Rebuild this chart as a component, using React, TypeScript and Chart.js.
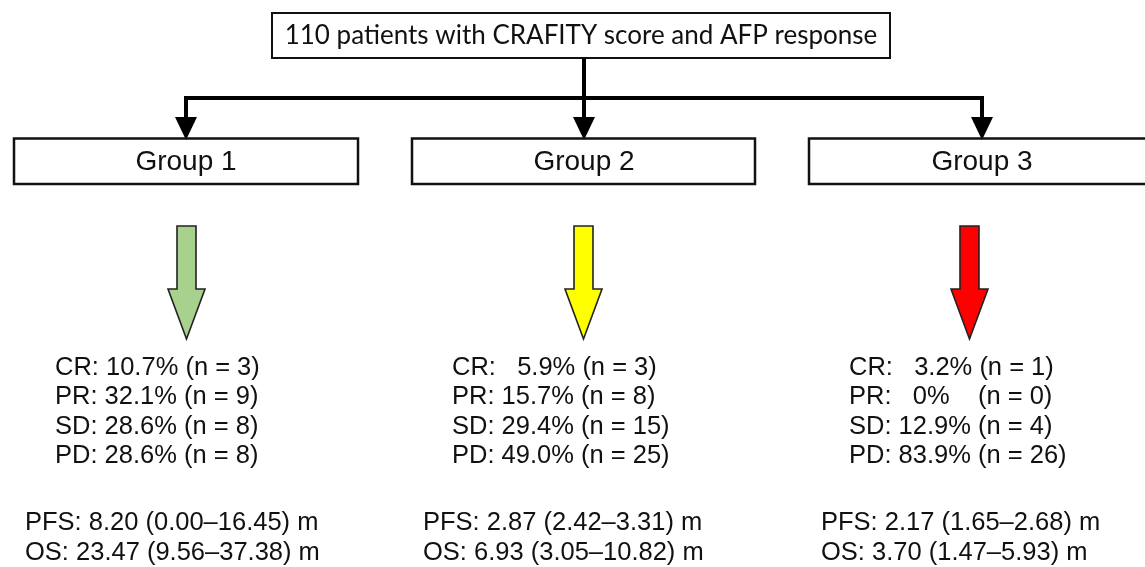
import React, { useEffect, useRef } from 'react';
import { Chart, registerables } from 'chart.js';

Chart.register(...registerables);

// ---------- data ----------
const titleText = '110 patients with CRAFITY score and AFP response';
const groups = ['Group 1', 'Group 2', 'Group 3'];
const responseLabels = ['CR', 'PR', 'SD', 'PD'];
const group1Pct = [10.7, 32.1, 28.6, 28.6];
const group2Pct = [5.9, 15.7, 29.4, 49.0];
const group3Pct = [3.2, 0, 12.9, 83.9];
const group1N = [3, 9, 8, 8];
const group2N = [3, 8, 15, 25];
const group3N = [1, 0, 4, 26];
const pfsMedian = [8.2, 2.87, 2.17];
const pfsLow = [0.0, 2.42, 1.65];
const pfsHigh = [16.45, 3.31, 2.68];
const osMedian = [23.47, 6.93, 3.7];
const osLow = [9.56, 3.05, 1.47];
const osHigh = [37.38, 10.82, 5.93];

// ---------- layout / style ----------
const W = 1145;
const H = 567;
const arrowColors = ['#A9D18E', '#FFFF00', '#FF0000'];
const groupBoxLeft = [14, 412, 809];
const groupBoxRight = [358, 755, 1153];
const connectorX = [186, 584, 982];
const blockArrowX = [186.5, 583.5, 969.5];
const statsX = [55, 452, 849];
const survX = [25, 423, 821];
const statsY = [367.5, 397, 426.5, 456];
const survY = [523, 552.5];

const pctTable = [group1Pct, group2Pct, group3Pct];
const nTable = [group1N, group2N, group3N];

function pctText(v: number) {
  return v === 0 ? '0%' : v.toFixed(1) + '%';
}

function statLine(label: string, pct: number, n: number) {
  const s = pctText(pct);
  const ref = '00.0%';
  let missing = 0;
  const extra = ref.slice(0, ref.length - s.length);
  for (const ch of extra) missing += ch === '.' ? 1 : 2;
  const lead = Math.min(2, missing);
  const trail = missing - lead;
  return `${label}: ${' '.repeat(lead)}${s}${' '.repeat(trail)} (n = ${n})`;
}

function ciLine(label: string, m: number, lo: number, hi: number) {
  return `${label}: ${m.toFixed(2)} (${lo.toFixed(2)}\u2013${hi.toFixed(2)}) m`;
}

const flowPlugin = {
  id: 'flow',
  beforeDraw(chart: any) {
    const { ctx } = chart;
    ctx.save();
    ctx.fillStyle = '#ffffff';
    ctx.fillRect(0, 0, chart.width, chart.height);
    ctx.restore();
  },
  afterDraw(chart: any) {
    const { ctx } = chart;
    const xs = chart.scales.x;
    const ys = chart.scales.y;
    const px = (v: number) => xs.getPixelForValue(v);
    const py = (v: number) => ys.getPixelForValue(v);
    ctx.save();

    // title box
    ctx.strokeStyle = '#111';
    ctx.lineWidth = 2;
    ctx.strokeRect(px(272), py(13), px(890) - px(272), py(58) - py(13));
    ctx.fillStyle = '#111';
    ctx.font = '26px Lato, "Open Sans", sans-serif';
    ctx.textAlign = 'center';
    ctx.textBaseline = 'middle';
    ctx.fillText(titleText, px(581), py(36));

    // connectors
    ctx.strokeStyle = '#000';
    ctx.lineWidth = 4;
    ctx.lineCap = 'butt';
    ctx.beginPath();
    ctx.moveTo(px(584), py(58));
    ctx.lineTo(px(584), py(98));
    ctx.moveTo(px(connectorX[0] - 2), py(98));
    ctx.lineTo(px(connectorX[2] + 2), py(98));
    connectorX.forEach((cx) => {
      ctx.moveTo(px(cx), py(98));
      ctx.lineTo(px(cx), py(120));
    });
    ctx.stroke();
    ctx.fillStyle = '#000';
    connectorX.forEach((cx) => {
      ctx.beginPath();
      ctx.moveTo(px(cx - 11), py(117));
      ctx.lineTo(px(cx + 11), py(117));
      ctx.lineTo(px(cx), py(140));
      ctx.closePath();
      ctx.fill();
    });

    // group boxes
    ctx.lineWidth = 2.5;
    ctx.strokeStyle = '#111';
    ctx.font = '28px "Liberation Sans", Arial, sans-serif';
    ctx.fillStyle = '#111';
    groups.forEach((g, i) => {
      const l = px(groupBoxLeft[i]);
      const r = px(groupBoxRight[i]);
      ctx.strokeRect(l, py(138.5), r - l, py(184) - py(138.5));
      ctx.fillText(g, px(connectorX[i]), py(162));
    });

    // block arrows
    groups.forEach((_, i) => {
      const c = blockArrowX[i];
      ctx.beginPath();
      ctx.moveTo(px(c - 9.5), py(226));
      ctx.lineTo(px(c + 9.5), py(226));
      ctx.lineTo(px(c + 9.5), py(289));
      ctx.lineTo(px(c + 18.5), py(289));
      ctx.lineTo(px(c), py(339));
      ctx.lineTo(px(c - 18.5), py(289));
      ctx.lineTo(px(c - 9.5), py(289));
      ctx.closePath();
      ctx.fillStyle = arrowColors[i];
      ctx.fill();
      ctx.lineWidth = 1.6;
      ctx.strokeStyle = '#222';
      ctx.lineJoin = 'miter';
      ctx.stroke();
    });

    // stats text
    ctx.fillStyle = '#111';
    ctx.textAlign = 'left';
    ctx.textBaseline = 'middle';
    ctx.font = '25.5px "Liberation Sans", Arial, sans-serif';
    groups.forEach((_, i) => {
      responseLabels.forEach((lab, j) => {
        ctx.fillText(statLine(lab, pctTable[i][j], nTable[i][j]), px(statsX[i]), py(statsY[j]));
      });
      ctx.fillText(ciLine('PFS', pfsMedian[i], pfsLow[i], pfsHigh[i]), px(survX[i]), py(survY[0]));
      ctx.fillText(ciLine('OS', osMedian[i], osLow[i], osHigh[i]), px(survX[i]), py(survY[1]));
    });

    ctx.restore();
  },
};

export default function App() {
  const ref = useRef<HTMLCanvasElement | null>(null);
  useEffect(() => {
    document.body.style.margin = '0';
    const canvas = ref.current;
    if (!canvas) return;
    const chart = new Chart(canvas, {
      type: 'scatter',
      data: { datasets: [] },
      options: {
        animation: false,
        responsive: false,
        devicePixelRatio: 1,
        layout: { padding: 0 },
        plugins: { legend: { display: false }, tooltip: { enabled: false }, title: { display: false } },
        scales: {
          x: { type: 'linear', min: 0, max: W, display: false },
          y: { type: 'linear', min: 0, max: H, reverse: true, display: false },
        },
      },
      plugins: [flowPlugin],
    } as any);
    return () => chart.destroy();
  }, []);
  return (
    <div style={{ width: W, height: H }}>
      <canvas ref={ref} width={W} height={H} style={{ display: 'block' }} />
    </div>
  );
}
